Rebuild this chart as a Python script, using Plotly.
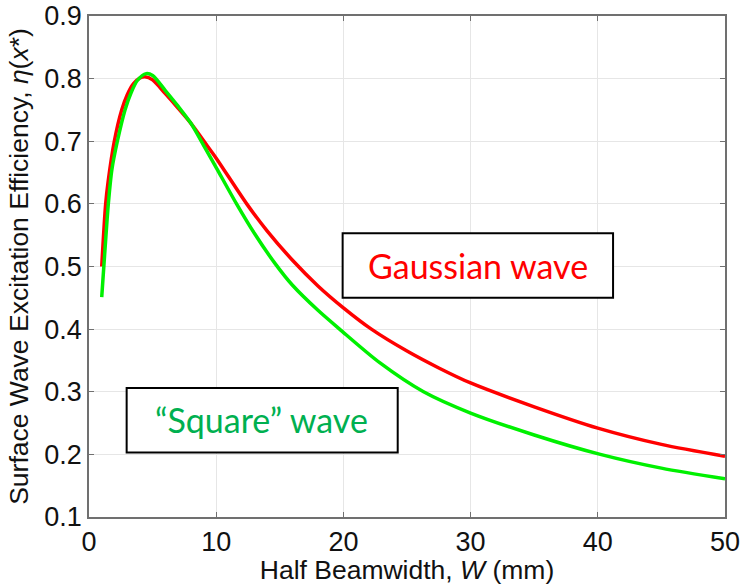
import plotly.graph_objects as go

# Gaussian wave: half beamwidth W (mm) and efficiency
w_gauss = [1, 1.31, 1.5, 1.99, 2.57, 3, 3.5, 4, 4.4, 5, 6, 7, 8, 9, 10, 12.4, 14, 16, 18, 20, 22.2, 25, 27.5, 30, 35, 40, 45, 50]
eta_gauss = [0.50, 0.60, 0.635, 0.70, 0.75, 0.774, 0.792, 0.801, 0.803, 0.798, 0.776, 0.753, 0.729, 0.701, 0.673, 0.60, 0.557, 0.510, 0.469, 0.434, 0.400, 0.365, 0.338, 0.314, 0.276, 0.242, 0.216, 0.197]

# "Square" wave
w_square = [1, 1.25, 1.52, 1.8, 2.23, 2.83, 3.3, 3.8, 4.5, 5, 6, 7, 8, 9, 10, 11.6, 13, 14.62, 16, 18, 19.7, 22.88, 26.3, 30, 35, 40.2, 45, 50]
eta_square = [0.451, 0.525, 0.60, 0.655, 0.70, 0.75, 0.777, 0.797, 0.808, 0.805, 0.781, 0.756, 0.729, 0.694, 0.658, 0.60, 0.553, 0.505, 0.470, 0.430, 0.400, 0.346, 0.300, 0.266, 0.231, 0.200, 0.178, 0.161]

x_ticks = [0, 10, 20, 30, 40, 50]
y_ticks = [0.1, 0.2, 0.3, 0.4, 0.5, 0.6, 0.7, 0.8, 0.9]
y_tick_text = ["0.1", "0.2", "0.3", "0.4", "0.5", "0.6", "0.7", "0.8", "0.9"]

fig = go.Figure()
fig.add_trace(go.Scatter(x=w_gauss, y=eta_gauss, mode="lines",
                         line=dict(color="#FF0000", width=3.5, shape="spline", smoothing=0.8),
                         name="Gaussian wave"))
fig.add_trace(go.Scatter(x=w_square, y=eta_square, mode="lines",
                         line=dict(color="#00F000", width=3.5, shape="spline", smoothing=0.8),
                         name="Square wave"))

tick_font = dict(family="Liberation Sans, Arial, sans-serif", size=27, color="#111111")
title_font = dict(family="Liberation Sans, Arial, sans-serif", size=26.5, color="#111111")

fig.update_xaxes(range=[0, 50], tickvals=x_ticks, ticktext=[str(v) for v in x_ticks],
                 showgrid=True, gridcolor="#e6e6e6", gridwidth=1, zeroline=False,
                 showline=True, linecolor="#707070", linewidth=1.5, mirror="ticks",
                 ticks="inside", ticklen=5, tickcolor="#707070", automargin=False,
                 tickfont=tick_font,
                 title=dict(text="Half Beamwidth, <i>W</i> (mm)", font=title_font, standoff=4))
fig.update_yaxes(range=[0.1, 0.9], tickvals=y_ticks, ticktext=y_tick_text,
                 showgrid=True, gridcolor="#e6e6e6", gridwidth=1, zeroline=False,
                 showline=True, linecolor="#707070", linewidth=1.5, mirror="ticks",
                 ticks="inside", ticklen=5, tickcolor="#707070", automargin=False,
                 tickfont=tick_font,
                 title=dict(text="Surface Wave Excitation Efficiency, <i>η</i>(<i>x</i>*)", font=title_font, standoff=8))

ann_font = "Lato, Carlito, Calibri, sans-serif"
fig.add_shape(type="rect", xref="x", yref="y", x0=19.94, x1=41.2, y0=0.450, y1=0.553,
              line=dict(color="black", width=2), fillcolor="white", layer="above")
fig.add_shape(type="rect", xref="x", yref="y", x0=2.96, x1=24.27, y0=0.203, y1=0.306,
              line=dict(color="black", width=2), fillcolor="white", layer="above")
fig.add_annotation(x=30.57, y=0.502, xref="x", yref="y", text="Gaussian wave", showarrow=False,
                   font=dict(family=ann_font, size=34, color="#FF0000"))
fig.add_annotation(x=13.6, y=0.255, xref="x", yref="y", text="\u201cSquare\u201d wave", showarrow=False,
                   font=dict(family=ann_font, size=34, color="#00B050"))

fig.update_layout(width=741, height=585, margin=dict(l=89, r=16, t=16, b=68),
                  paper_bgcolor="white", plot_bgcolor="white", showlegend=False)

fig.write_html("out.html")
